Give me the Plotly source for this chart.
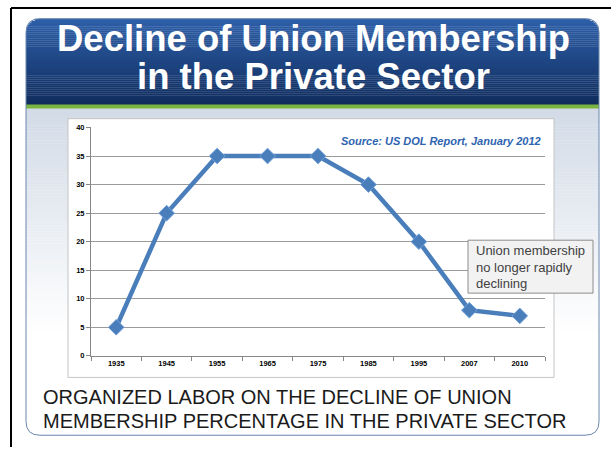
import math
import plotly.graph_objects as go

# ---------------- data ----------------
years = ["1935", "1945", "1955", "1965", "1975", "1985", "1995", "2007", "2010"]
membership_pct = [5, 25, 35, 35, 35, 30, 20, 8, 7]
y_tick_values = [0, 5, 10, 15, 20, 25, 30, 35, 40]

title_lines = ["Decline of Union Membership", "in the Private Sector"]
source_text = "Source: US DOL Report, January 2012"
note_lines = ["Union membership", "no longer rapidly", "declining"]
caption_lines = ["ORGANIZED LABOR ON THE DECLINE OF UNION",
                 "MEMBERSHIP PERCENTAGE IN THE PRIVATE SECTOR"]

# ---------------- helpers (pixel -> paper) ----------------
W, H = 611, 452


def px(x):
    return x / W


def py(y):
    return 1 - y / H


shapes = []


def rect(x0, y0, x1, y1, fill, line=None, lw=0, layer="below"):
    shapes.append(dict(type="rect", xref="paper", yref="paper",
                       x0=px(x0), x1=px(x1), y0=py(y1), y1=py(y0),
                       fillcolor=fill,
                       line=dict(color=line or "rgba(0,0,0,0)", width=lw),
                       layer=layer))


def rrect_path(x0, y0, x1, y1, r):
    return (f"M{px(x0 + r)},{py(y0)} L{px(x1 - r)},{py(y0)} "
            f"Q{px(x1)},{py(y0)} {px(x1)},{py(y0 + r)} "
            f"L{px(x1)},{py(y1 - r)} Q{px(x1)},{py(y1)} {px(x1 - r)},{py(y1)} "
            f"L{px(x0 + r)},{py(y1)} Q{px(x0)},{py(y1)} {px(x0)},{py(y1 - r)} "
            f"L{px(x0)},{py(y0 + r)} Q{px(x0)},{py(y0)} {px(x0 + r)},{py(y0)} Z")


def lerp_color(c1, c2, t):
    a = [int(c1[i:i + 2], 16) for i in (1, 3, 5)]
    b = [int(c2[i:i + 2], 16) for i in (1, 3, 5)]
    return "rgb(%d,%d,%d)" % tuple(round(a[k] + (b[k] - a[k]) * t) for k in range(3))


PX0, PX1, PY0, PY1, R = 26, 599, 15, 440, 14

# panel white background
shapes.append(dict(type="path", xref="paper", yref="paper",
                   path=rrect_path(PX0, PY0, PX1, PY1, R),
                   fillcolor="white", line=dict(width=0), layer="below"))

# header gradient (rounded top)
HY0, HY1 = 15, 103
step = 2
y = HY0
while y < HY1:
    mid = y + step / 2 - HY0
    inset = 0
    if mid < R:
        inset = R - math.sqrt(max(R * R - (R - mid) ** 2, 0))
    t = (y - HY0) / (HY1 - HY0)
    rect(PX0 + inset, y, PX1 - inset, min(y + step, HY1) + 0.3,
         lerp_color("#2d5fa8", "#0f2b5b", t))
    y += step

# body gradient
BY0, BY1 = 103, 335
step = 3
y = BY0
while y < BY1:
    t = (y - BY0) / (BY1 - BY0)
    rect(PX0, y, PX1, y + step + 0.3, lerp_color("#d1dae6", "#ffffff", t))
    y += step

# green rule
rect(PX0, 102.5, PX1, 106.5, "#7ab340")

# panel outline
shapes.append(dict(type="path", xref="paper", yref="paper",
                   path=rrect_path(PX0, PY0, PX1, PY1, R),
                   fillcolor="rgba(0,0,0,0)", line=dict(color="#6a86ae", width=1),
                   layer="below"))

# chart white box
rect(68, 117, 554, 381, "white", "#c4c4c4", 1)

# black frame lines (top & left)
shapes.append(dict(type="line", xref="paper", yref="paper",
                   x0=px(11), x1=px(611), y0=py(4), y1=py(4),
                   line=dict(color="black", width=2), layer="above"))
shapes.append(dict(type="line", xref="paper", yref="paper",
                   x0=px(11), x1=px(11), y0=py(4), y1=py(452),
                   line=dict(color="black", width=2), layer="above"))

# note box
rect(468, 241, 593, 295, "#f2f2f2", "#8c8c8c", 1, layer="above")

# ---------------- figure ----------------
fig = go.Figure()
fig.add_trace(go.Scatter(
    x=years, y=membership_pct, mode="lines+markers",
    line=dict(color="#4a7ebb", width=4.5),
    marker=dict(symbol="diamond", size=12, color="#4a7ebb",
                line=dict(color="#6f9fd8", width=1)),
    cliponaxis=False, hoverinfo="skip"))

annotations = []
for txt, yc in zip(title_lines, [35, 74]):
    annotations.append(dict(text=f"<b>{txt}</b>", xref="paper", yref="paper",
                            x=px(313), y=py(yc), xanchor="center", yanchor="middle",
                            showarrow=False,
                            font=dict(family="Liberation Sans", size=36.5, color="white")))
annotations.append(dict(text=f"<b><i>{source_text}</i></b>", xref="paper", yref="paper",
                        x=px(543), y=py(140), xanchor="right", yanchor="middle",
                        showarrow=False,
                        font=dict(family="Liberation Sans", size=11, color="#2e64b0")))
for txt, yc in zip(note_lines, [252, 269, 285]):
    annotations.append(dict(text=txt, xref="paper", yref="paper",
                            x=px(474), y=py(yc), xanchor="left", yanchor="middle",
                            showarrow=False,
                            font=dict(family="Liberation Sans", size=13, color="#3f3f3f")))
for txt, yc in zip(caption_lines, [401, 425]):
    annotations.append(dict(text=txt, xref="paper", yref="paper",
                            x=px(41), y=py(yc), xanchor="left", yanchor="middle",
                            showarrow=False,
                            font=dict(family="Liberation Sans", size=20, color="#1a1a1a")))

tickfont = dict(family="Liberation Sans", size=7.5, color="black", weight="bold")

fig.update_layout(
    width=W, height=H, autosize=False,
    margin=dict(l=0, r=0, t=0, b=0, pad=0),
    paper_bgcolor="white", plot_bgcolor="rgba(0,0,0,0)",
    showlegend=False,
    shapes=shapes, annotations=annotations,
    xaxis=dict(domain=[px(91), px(545)], type="category",
               range=[-0.5, len(years) - 0.5],
               showline=True, linecolor="#868686", linewidth=1,
               ticks="outside", tickson="boundaries", ticklen=4,
               tickcolor="#868686", showgrid=False, zeroline=False,
               tickfont=tickfont, fixedrange=True),
    yaxis=dict(domain=[py(359), py(126)], range=[0, 40],
               tickvals=y_tick_values, ticktext=[str(v) for v in y_tick_values],
               showline=True, linecolor="#868686", linewidth=1,
               ticks="outside", ticklen=4, tickcolor="#868686",
               showgrid=True, gridcolor="#9a9a9a", gridwidth=1,
               zeroline=False, tickfont=tickfont, fixedrange=True),
)

fig.write_html(
    "out.html",
    config={"displayModeBar": False},
    post_script="document.body.style.margin='0';document.body.style.overflow='hidden';",
)
